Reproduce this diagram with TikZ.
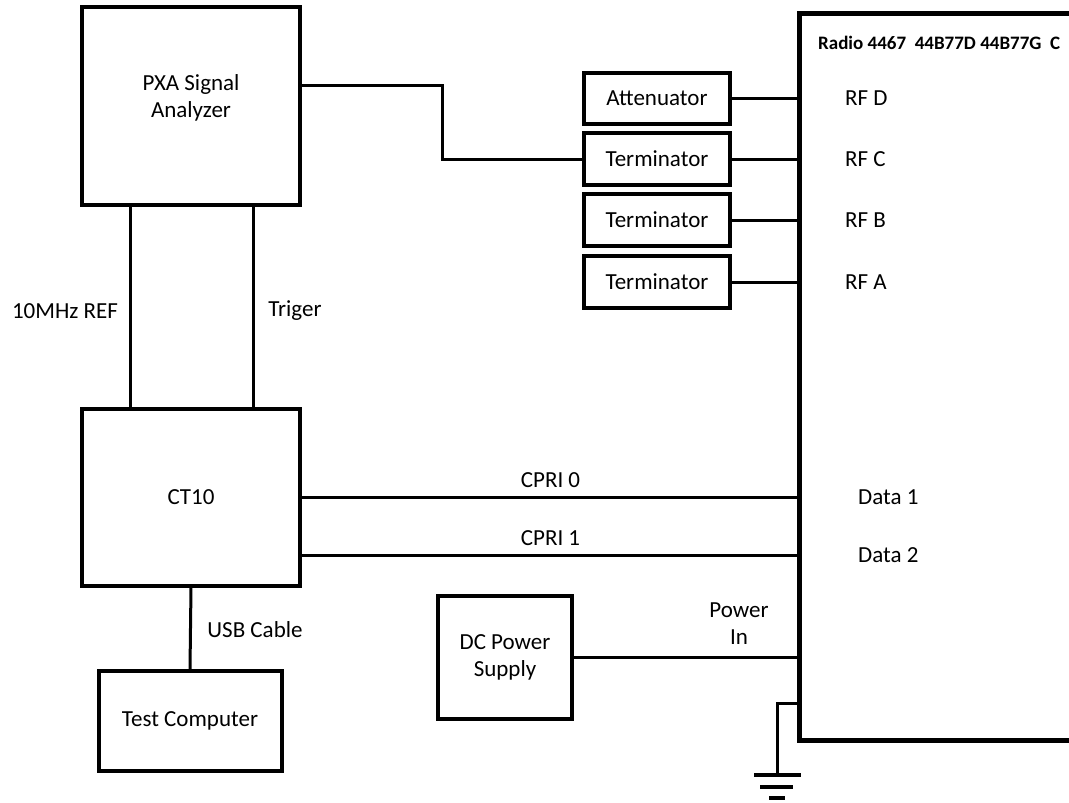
\documentclass[tikz,border=0pt]{standalone}
\usepackage{fontspec}
\setmainfont{Carlito}
\begin{document}
\begin{tikzpicture}[x=1pt,y=-1pt,
  box/.style={draw, line width=4pt, rectangle, align=center, inner sep=0pt, font=\fontsize{23}{27}\selectfont},
  conn/.style={line width=3pt},
  lbl/.style={inner sep=0pt, font=\fontsize{23}{27}\selectfont, align=center},
  gbar/.style={line width=4pt}]
\useasboundingbox (0,0) rectangle (1069,803);
% boxes
\node[box, minimum width=218pt, minimum height=198pt, label={[lbl, yshift=8pt]center:PXA Signal\\Analyzer}] (pxa) at (191,106) {};
\node[box, minimum width=218pt, minimum height=177pt] (ct) at (191,497) {CT10};
\node[box, minimum width=183pt, minimum height=100pt] (pc) at (190,721) {Test Computer};
\node[box, minimum width=146pt, minimum height=51pt] (att) at (657,98) {Attenuator};
\node[box, minimum width=146pt, minimum height=52pt] (t1) at (657,159) {Terminator};
\node[box, minimum width=146pt, minimum height=52pt] (t2) at (657,220) {Terminator};
\node[box, minimum width=146pt, minimum height=52pt] (t3) at (657,282) {Terminator};
\node[box, minimum width=134pt, minimum height=123pt] (dc) at (505,657) {DC Power\\Supply};
% radio unit
\coordinate (rtr) at (1075,13);
\coordinate (rtl) at (799,13);
\coordinate (rbl) at (799,740);
\coordinate (rbr) at (1075,740);
\draw[line width=5pt] (rtr) -- (rtl) -- (rbl) -- (rbr);
\node[inner sep=0pt, anchor=west, font=\fontsize{19}{22}\selectfont\bfseries] (title) at (818,43) {Radio 4467~ 44B77D 44B77G~ C};
% radio port labels
\node[lbl, anchor=west] (rfd) at (845,98) {RF D};
\node[lbl, anchor=west] (rfc) at (845,159) {RF C};
\node[lbl, anchor=west] (rfb) at (845,220) {RF B};
\node[lbl, anchor=west] (rfa) at (845,282) {RF A};
\node[lbl, anchor=west] (d1) at (858,497) {Data 1};
\node[lbl, anchor=west] (d2) at (858,555) {Data 2};
\node[lbl] (pin) at (739,624) {Power\\In};
% connectors to radio
\draw[conn] (att.east) -- (att.east -| rtl);
\draw[conn] (t1.east) -- (t1.east -| rtl);
\draw[conn] (t2.east) -- (t2.east -| rtl);
\draw[conn] (t3.east) -- (t3.east -| rtl);
\draw[conn] ([yshift=21pt]pxa.east) -- ++(140,0) |- (t1.west);
\draw[conn] (ct.east) -- node[lbl, above=8pt] (c0) {CPRI 0} (ct.east -| rtl);
\draw[conn] ([yshift=-58pt]ct.east) -- node[lbl, above=8pt] (c1) {CPRI 1} ([yshift=-58pt]ct.east -| rtl);
\draw[conn] (dc.east) -- (dc.east -| rtl);
% PXA to CT10
\draw[conn] ([xshift=-61pt]pxa.south) -- ([xshift=-61pt]ct.north);
\draw[conn] ([xshift=62pt]pxa.south) -- ([xshift=62pt]ct.north);
\node[lbl] (ref) at (65,311) {10MHz REF};
\node[lbl] (trg) at (295,311) {Triger};
% USB
\draw[conn] (ct.south) -- (pc.north);
\node[lbl] (usb) at (255,630) {USB Cable};
% ground
\coordinate (g0) at (799,703);
\coordinate (g1) at (777,775);
\draw[conn] (g0) -- (g0 -| g1) -- (g1);
\draw[gbar] ([xshift=-23pt]g1) -- ([xshift=24pt]g1);
\draw[gbar] ([xshift=-17pt,yshift=-12pt]g1) -- ([xshift=16pt,yshift=-12pt]g1);
\draw[gbar] ([xshift=-8pt,yshift=-23pt]g1) -- ([xshift=8pt,yshift=-23pt]g1);
\end{tikzpicture}
\end{document}
